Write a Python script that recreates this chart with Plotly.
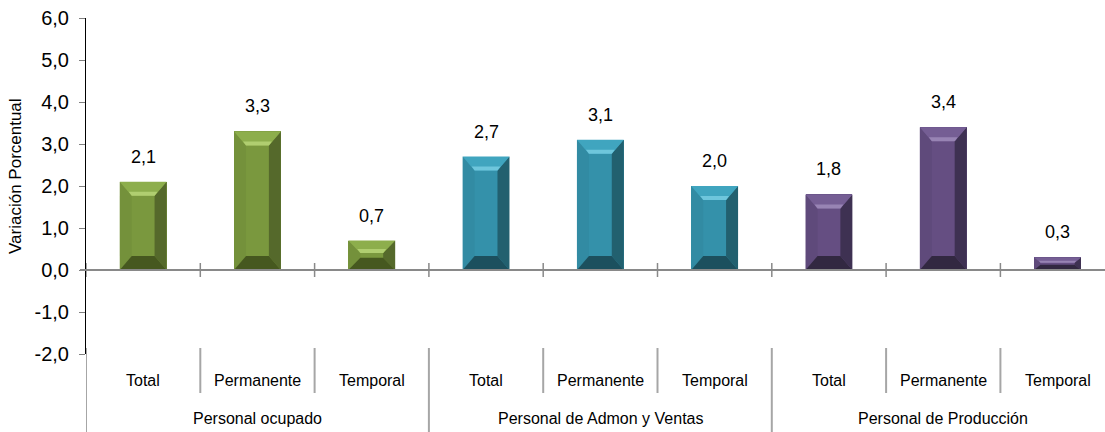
import plotly.graph_objects as go

# ---- data ----
groups = ["Personal ocupado", "Personal de Admon y Ventas", "Personal de Producción"]
subcats = ["Total", "Permanente", "Temporal"]
values_ocupado = [2.1, 3.3, 0.7]
values_admon = [2.7, 3.1, 2.0]
values_produccion = [1.8, 3.4, 0.3]
value_labels = ["2,1", "3,3", "0,7", "2,7", "3,1", "2,0", "1,8", "3,4", "0,3"]
y_tick_values = [-2, -1, 0, 1, 2, 3, 4, 5, 6]
y_tick_labels = ["-2,0", "-1,0", "0,0", "1,0", "2,0", "3,0", "4,0", "5,0", "6,0"]
y_title = "Variación Porcentual"

# ---- styles ----
palettes = [
    dict(face="#7A983E", top="#8DAE4C", hi="#B0CE70", left="#74913B", right="#55692B", bottom="#46581F"),
    dict(face="#3491AA", top="#40A5BF", hi="#6EC6DC", left="#328BA3", right="#22606F", bottom="#1C505E"),
    dict(face="#654E82", top="#755E94", hi="#9884B4", left="#5F4A7B", right="#3E3152", bottom="#322841"),
]
all_values = [values_ocupado, values_admon, values_produccion]

W, H = 1105, 432
ML, MT, MB = 86, 18, 78
plot_w = W - ML
plot_h = H - MT - MB
slot_px = 114.3
x0 = -0.5
x1 = x0 + plot_w / slot_px
y_min, y_max = -2, 6
px_per_x = slot_px
px_per_y = plot_h / (y_max - y_min)
bar_w = 0.41

fig = go.Figure()
shapes = []
annotations = []

xs_all, vs_all, cols_all = [], [], []
for gi, vals in enumerate(all_values):
    for si, v in enumerate(vals):
        xs_all.append(gi * 3 + si)
        vs_all.append(v)
        cols_all.append(palettes[gi]["face"])

fig.add_trace(go.Bar(
    x=xs_all, y=vs_all, width=bar_w,
    marker=dict(color=cols_all, line=dict(width=0)),
    hoverinfo="skip", showlegend=False,
))

def poly(pts, color):
    path = "M " + " L ".join(f"{px},{py}" for px, py in pts) + " Z"
    return dict(type="path", path=path, xref="x", yref="y",
                fillcolor=color, line=dict(width=0), layer="above")

# bevel shapes derived from the data values
for i, (xc, v) in enumerate(zip(xs_all, vs_all)):
    pal = palettes[i // 3]
    l, r = xc - bar_w / 2, xc + bar_w / 2
    b, t = 0.0, v
    h_px = v * px_per_y
    d_y_px = min(14, h_px * 0.42)
    d_x_px = min(12, d_y_px * 1.2) if h_px < 30 else 12
    dx = d_x_px / px_per_x
    dy = d_y_px / px_per_y
    il, ir, ib, it = l + dx, r - dx, b + dy, t - dy
    shapes.append(poly([(l, b), (l, t), (il, it), (il, ib)], pal["left"]))
    shapes.append(poly([(r, b), (r, t), (ir, it), (ir, ib)], pal["right"]))
    shapes.append(poly([(l, t), (r, t), (ir, it), (il, it)], pal["top"]))
    hdy = min(4, d_y_px * 0.35) / px_per_y
    shapes.append(poly([(il - dx * 0.25, it + hdy), (ir + dx * 0.25, it + hdy), (ir, it), (il, it)], pal["hi"]))
    shapes.append(poly([(l, b), (r, b), (ir, ib), (il, ib)], pal["bottom"]))
    annotations.append(dict(
        x=xc, y=v, xref="x", yref="y", text=value_labels[i], showarrow=False,
        yshift=25, yanchor="middle",
        font=dict(family="Liberation Sans, Arial, sans-serif", size=18, color="#000000"),
    ))

# category axis line at zero
shapes.append(dict(type="line", xref="paper", yref="y", x0=-6 / plot_w, x1=1, y0=0, y1=0,
                   line=dict(color="#898989", width=2), layer="above"))
n = len(xs_all)
for k in range(n + 1):
    xb = -0.5 + k
    if xb > x1:
        continue
    shapes.append(dict(type="line", xref="x", yref="y", x0=xb, x1=xb,
                       y0=-7 / px_per_y, y1=7 / px_per_y,
                       line=dict(color="#898989", width=1.5), layer="above"))

def pix_to_paper(p):
    return (H - MB - p) / plot_h

sep_top = pix_to_paper(348)
sep_short = pix_to_paper(393)
sep_long = pix_to_paper(434)
for k in range(n + 1):
    xb = -0.5 + k
    if xb > x1:
        continue
    long_sep = (k % 3 == 0)
    shapes.append(dict(type="line", xref="x", yref="paper", x0=xb, x1=xb,
                       y0=sep_top, y1=sep_long if long_sep else sep_short,
                       line=dict(color="#A6A6A6", width=2), layer="above"))

narrow = "Liberation Sans Narrow, Arial Narrow, Liberation Sans, Arial, sans-serif"
for gi, g in enumerate(groups):
    for si, s in enumerate(subcats):
        annotations.append(dict(x=gi * 3 + si, y=pix_to_paper(380), xref="x", yref="paper",
                                text=s, showarrow=False, yanchor="middle",
                                font=dict(family=narrow, size=16, color="#000000")))
    annotations.append(dict(x=gi * 3 + 1, y=pix_to_paper(418), xref="x", yref="paper",
                            text=g, showarrow=False, yanchor="middle",
                            font=dict(family=narrow, size=16, color="#000000")))

# y-axis title as rotated annotation
annotations.append(dict(x=(15 - ML) / plot_w, y=pix_to_paper(176), xref="paper", yref="paper",
                        text=y_title, textangle=-90, showarrow=False,
                        xanchor="center", yanchor="middle",
                        font=dict(family="Liberation Sans, Arial, sans-serif", size=17, color="#000000")))

fig.update_layout(
    width=W, height=H,
    margin=dict(l=ML, r=0, t=MT, b=MB, pad=0, autoexpand=False),
    paper_bgcolor="white", plot_bgcolor="white",
    shapes=shapes, annotations=annotations,
    bargap=0,
    xaxis=dict(range=[x0, x1], showticklabels=False, showgrid=False, zeroline=False,
               showline=False, ticks="", automargin=False),
    yaxis=dict(range=[y_min, y_max], tickmode="array", tickvals=y_tick_values, ticktext=y_tick_labels,
               automargin=False,
               showgrid=False, zeroline=False, showline=True, linecolor="#000000", linewidth=1,
               ticks="outside", ticklen=6, tickcolor="#7F7F7F", ticklabelstandoff=6,
               tickfont=dict(family="Liberation Sans, Arial, sans-serif", size=20, color="#000000")),
)

fig.write_html("out.html", config={"displayModeBar": False},
               post_script="document.body.style.margin='0';document.body.style.padding='0';")
